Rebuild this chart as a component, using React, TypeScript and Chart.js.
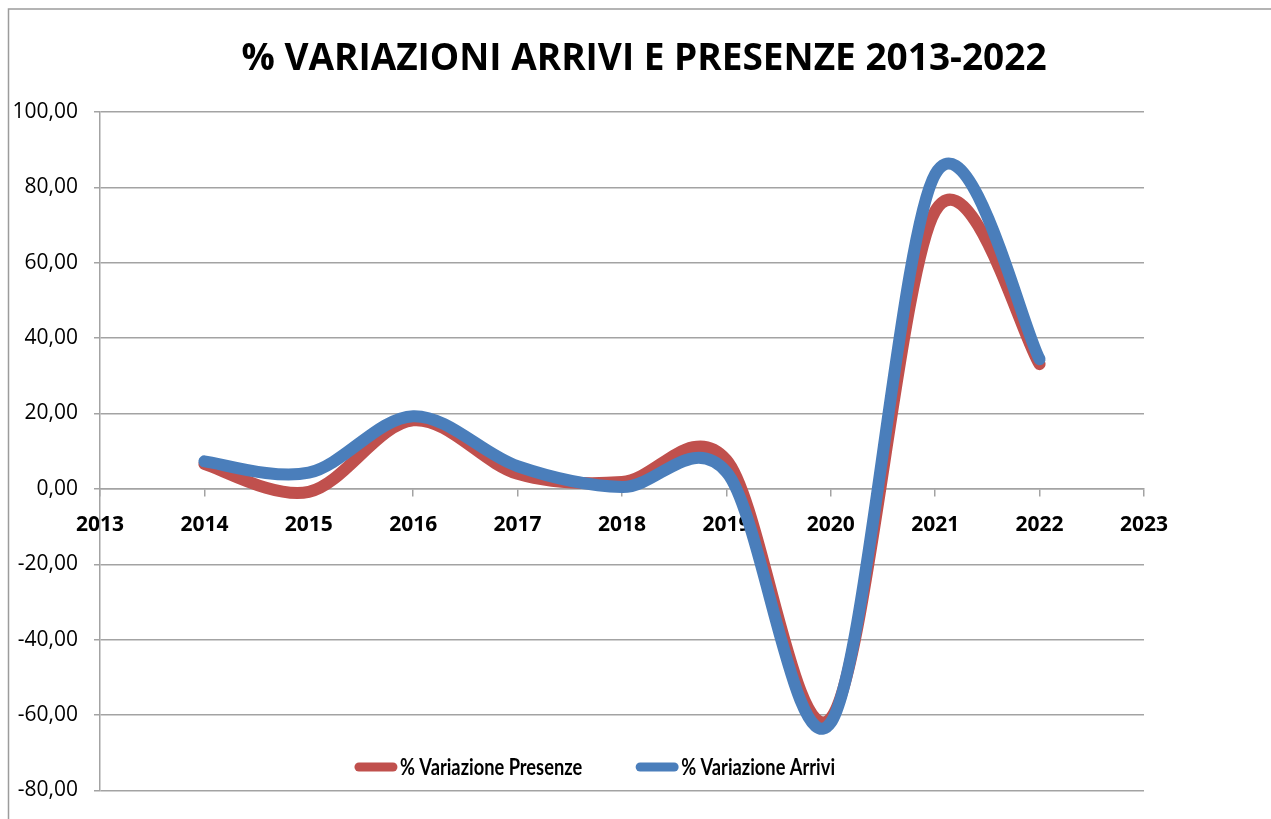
import React, { useEffect, useRef } from 'react';
import { Chart, registerables } from 'chart.js';

Chart.register(...registerables);

const TITLE = '% VARIAZIONI ARRIVI E PRESENZE 2013-2022';
const YEARS = [2014, 2015, 2016, 2017, 2018, 2019, 2020, 2021, 2022];
const PRESENZE = [6.6, -0.8, 18.2, 4.0, 1.8, 7.7, -60.8, 73.7, 33.1];
const ARRIVI = [7.3, 4.3, 19.3, 6.0, 0.5, 4.5, -62.0, 83.5, 34.4];
const SERIES_LABELS = ['% Variazione Presenze', '% Variazione Arrivi'];
const X_MIN = 2013;
const X_MAX = 2023;
const Y_MIN = -80;
const Y_MAX = 100;
const Y_STEP = 20;

const RED = '#C0504D';
const BLUE = '#4A7EBB';
const GRID = '#a3a3a3';
const FONT = '"Open Sans", "Noto Sans", sans-serif';
const LEGEND_FONT = 'Lato, "Open Sans", sans-serif';

// Excel-like smoothing: uniform Catmull-Rom control points computed from the
// pixel positions that Chart.js's scales gave each point.
const smoothPlugin = {
  id: 'excelSmooth',
  beforeDatasetsDraw(chart: any) {
    chart.data.datasets.forEach((_: any, di: number) => {
      const meta = chart.getDatasetMeta(di);
      const line = meta.dataset;
      const pts = meta.data;
      if (!line || !pts || !pts.length) return;
      const n = pts.length;
      for (let i = 0; i < n; i++) {
        const p = pts[i];
        const prev = pts[Math.max(0, i - 1)];
        const next = pts[Math.min(n - 1, i + 1)];
        const dx = (next.x - prev.x) / 6;
        const dy = (next.y - prev.y) / 6;
        p.cp1x = p.x - dx;
        p.cp1y = p.y - dy;
        p.cp2x = p.x + dx;
        p.cp2y = p.y + dy;
      }
      line._pointsUpdated = true;
      line._path = undefined;
    });
  },
};

const framePlugin = {
  id: 'frame',
  beforeDraw(chart: any) {
    const c = chart.ctx;
    c.save();
    c.fillStyle = '#ffffff';
    c.fillRect(0, 0, chart.width, chart.height);
    c.strokeStyle = '#9c9c9c';
    c.lineWidth = 1.5;
    c.strokeRect(8.5, 9, chart.width + 20, chart.height + 20);
    c.restore();
  },
  afterDraw(chart: any) {
    const c = chart.ctx;
    c.save();
    c.font = `bold 37px ${FONT}`;
    c.fillStyle = '#000';
    c.textAlign = 'center';
    c.textBaseline = 'alphabetic';
    c.fillText(TITLE, 644, 70);
    c.restore();
  },
};

const legendPlugin = {
  id: 'insideLegend',
  afterDraw(chart: any) {
    const c = chart.ctx;
    c.save();
    const squeeze = 0.83;
    c.font = `bold 22px ${LEGEND_FONT}`;
    c.textBaseline = 'middle';
    c.textAlign = 'left';
    const lineLen = 42;
    const gapAfterLine = 3;
    const itemGap = 54;
    const items = chart.data.datasets.map((ds: any) => ({
      label: ds.label as string,
      color: ds.borderColor as string,
      tw: c.measureText(ds.label).width * squeeze,
    }));
    const total =
      items.reduce((s: number, it: any) => s + lineLen + gapAfterLine + it.tw, 0) +
      itemGap * (items.length - 1);
    let x = 595 - total / 2;
    const y = 767;
    for (const it of items) {
      c.strokeStyle = it.color;
      c.lineWidth = 9;
      c.lineCap = 'round';
      c.beginPath();
      c.moveTo(x + 4, y);
      c.lineTo(x + lineLen - 4, y);
      c.stroke();
      c.fillStyle = '#000';
      c.save();
      c.translate(x + lineLen + gapAfterLine, y);
      c.scale(squeeze, 1);
      c.fillText(it.label, 0, 1);
      c.restore();
      x += lineLen + gapAfterLine + it.tw + itemGap;
    }
    c.restore();
  },
};

export default function App() {
  const ref = useRef<HTMLCanvasElement>(null);
  useEffect(() => {
    const canvas = ref.current!;
    const makeDs = (label: string, values: number[], color: string, order: number) => ({
      label,
      data: YEARS.map((x, i) => ({ x, y: values[i] })),
      borderColor: color,
      backgroundColor: color,
      borderWidth: 12,
      pointRadius: 0,
      pointHoverRadius: 0,
      tension: 0.4,
      borderCapStyle: 'round',
      borderJoinStyle: 'round',
      fill: false,
      order,
    });
    const chart = new Chart(canvas, {
      type: 'line',
      data: {
        datasets: [
          makeDs(SERIES_LABELS[0], PRESENZE, RED, 1),
          makeDs(SERIES_LABELS[1], ARRIVI, BLUE, 0),
        ] as any,
      },
      options: {
        responsive: false,
        animation: false,
        layout: { padding: { left: 0, right: 127, top: 112, bottom: 21 } },
        plugins: {
          legend: { display: false },
          tooltip: { enabled: false },
          title: { display: false },
        },
        scales: {
          x: {
            type: 'linear',
            position: { y: 0 } as any,
            min: X_MIN,
            max: X_MAX,
            ticks: {
              stepSize: 1,
              autoSkip: false,
              maxRotation: 0,
              callback: (v: any) => String(v),
              color: '#000',
              font: { family: FONT, size: 21, weight: 'bold' },
              padding: 17,
            },
            grid: { drawOnChartArea: false, drawTicks: true, tickLength: 7, color: GRID, lineWidth: 1.5 },
            border: { color: GRID, width: 1.5 },
          },
          y: {
            type: 'linear',
            min: Y_MIN,
            max: Y_MAX,
            ticks: {
              stepSize: Y_STEP,
              callback: (v: any) => Number(v).toFixed(2).replace('.', ','),
              color: '#000',
              font: { family: FONT, size: 21 },
              padding: 16,
            },
            grid: { color: GRID, lineWidth: 1.5, tickLength: 6 },
            border: { color: GRID, width: 1.5 },
            afterFit: (s: any) => {
              s.width = 100;
            },
          },
        },
      } as any,
      plugins: [framePlugin, smoothPlugin, legendPlugin],
    });
    return () => chart.destroy();
  }, []);
  return (
    <div style={{ position: 'fixed', left: 0, top: 0, width: 1271, height: 819, background: '#fff' }}>
      <canvas ref={ref} width={1271} height={819} style={{ display: 'block' }} />
    </div>
  );
}
